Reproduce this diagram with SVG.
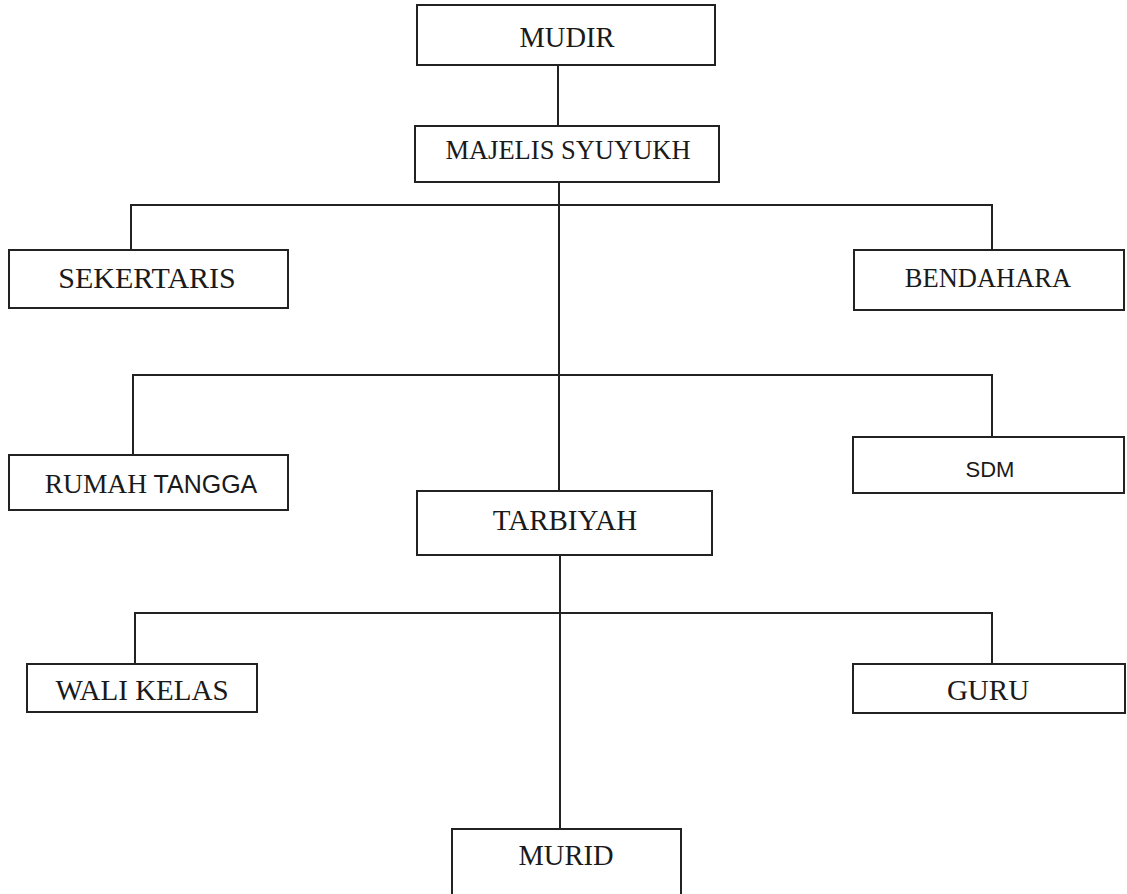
<svg xmlns="http://www.w3.org/2000/svg" width="1127" height="894" viewBox="0 0 1127 894">
<style>
.box{fill:#fff;stroke:#222;stroke-width:2}
.ln{fill:none;stroke:#222;stroke-width:2}
.t{font-family:"Liberation Serif","Times New Roman",serif;font-size:28.5px;fill:#1a1a1a;text-anchor:middle}
.s{font-family:"Liberation Sans",Arial,sans-serif;fill:#1a1a1a}
</style>
<rect width="1127" height="894" fill="#fff"/>
<g id="connectors">
<path class="ln" d="M558 65V126"/>
<path class="ln" d="M559 182V491"/>
<path class="ln" d="M560 555V829"/>
<path class="ln" d="M131 250V205H992V250"/>
<path class="ln" d="M133 455V375H992V437"/>
<path class="ln" d="M135 664V613H992V664"/>
</g>
<g id="mudir"><rect class="box" x="417" y="5" width="298" height="60"/><text class="t" x="567" y="47">MUDIR</text></g>
<g id="majelis"><rect class="box" x="415" y="126" width="304" height="56"/><text class="t" x="568" y="159" style="font-size:26.5px">MAJELIS SYUYUKH</text></g>
<g id="sekertaris"><rect class="box" x="9" y="250" width="279" height="58"/><text class="t" x="147" y="288" style="font-size:30px">SEKERTARIS</text></g>
<g id="bendahara"><rect class="box" x="854" y="250" width="270" height="60"/><text class="t" x="988" y="287" style="font-size:26.5px">BENDAHARA</text></g>
<g id="rumah-tangga"><rect class="box" x="9" y="455" width="279" height="55"/><text class="t" x="151" y="493"><tspan style="font-size:27.5px">RUMAH</tspan><tspan class="s" style="font-size:25px"> TANGGA</tspan></text></g>
<g id="sdm"><rect class="box" x="853" y="437" width="271" height="56"/><text class="t s" x="990" y="477" style="font-size:22px">SDM</text></g>
<g id="tarbiyah"><rect class="box" x="417" y="491" width="295" height="64"/><text class="t" x="565" y="530" style="font-size:29px">TARBIYAH</text></g>
<g id="wali-kelas"><rect class="box" x="27" y="664" width="230" height="48"/><text class="t" x="142" y="700" style="font-size:29px">WALI KELAS</text></g>
<g id="guru"><rect class="box" x="853" y="664" width="272" height="49"/><text class="t" x="988" y="700" style="font-size:29px">GURU</text></g>
<g id="murid"><rect class="box" x="452" y="829" width="229" height="80"/><text class="t" x="566" y="865">MURID</text></g>
</svg>
